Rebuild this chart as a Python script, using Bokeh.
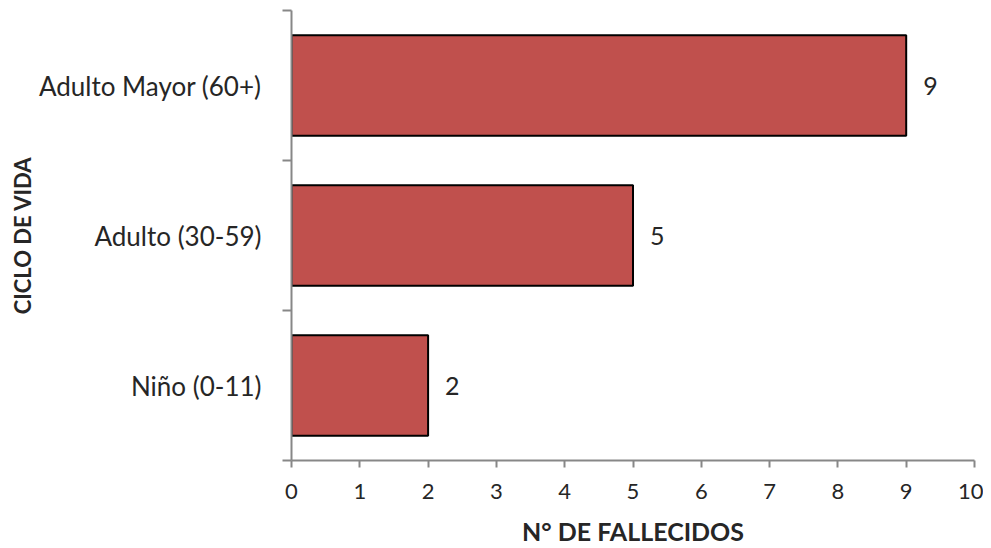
from bokeh.plotting import figure
from bokeh.models import ColumnDataSource, FixedTicker, LinearAxis, Range1d
from bokeh.core.properties import value
from bokeh.embed import file_html
from bokeh.resources import INLINE

categories = ["Niño (0-11)", "Adulto (30-59)", "Adulto Mayor (60+)"]
fallecidos = [2, 5, 9]
x_ticks = list(range(0, 11))

positions = list(range(len(categories)))
src = ColumnDataSource(dict(y=positions, x=fallecidos, lbl=[str(v) for v in fallecidos]))

FONT = "Lato"
AXIS_COLOR = "#878787"
TEXT_COLOR = "#262626"
CAT_FS = "26px"
TICK_FS = "22px"

p = figure(width=983, height=548, output_backend="svg", toolbar_location=None,
           x_range=Range1d(0, 10), y_range=Range1d(-0.5, len(categories) - 0.5),
           x_axis_location=None, y_axis_location=None,
           min_border_left=291, min_border_right=9, min_border_top=10, min_border_bottom=88)
p.outline_line_color = None
p.xgrid.visible = False
p.ygrid.visible = False
p.grid.visible = False

p.hbar(y="y", right="x", left=0, height=0.67, source=src,
       fill_color="#C0504D", line_color="black", line_width=2)
p.text(x="x", y="y", text="lbl", source=src, x_offset=17,
       text_baseline="middle", text_align="left", text_font=value(FONT),
       text_font_size="25px", text_color=TEXT_COLOR)

xaxis = LinearAxis(ticker=FixedTicker(ticks=x_ticks), axis_label="N° DE FALLECIDOS")
xaxis.axis_line_color = AXIS_COLOR
xaxis.axis_line_width = 2
xaxis.major_tick_line_color = AXIS_COLOR
xaxis.major_tick_line_width = 2
xaxis.major_tick_in = 0
xaxis.major_tick_out = 7
xaxis.minor_tick_line_color = None
xaxis.major_label_text_font = FONT
xaxis.major_label_text_font_size = TICK_FS
xaxis.major_label_text_color = TEXT_COLOR
xaxis.major_label_standoff = 16
xaxis.axis_label_text_font = FONT
xaxis.axis_label_text_font_size = "25px"
xaxis.axis_label_text_font_style = "bold"
xaxis.axis_label_text_color = TEXT_COLOR
xaxis.axis_label_standoff = 14
p.add_layout(xaxis, "below")

bounds = [i - 0.5 for i in range(len(categories) + 1)]
yaxis = LinearAxis(ticker=FixedTicker(ticks=positions, minor_ticks=bounds),
                   axis_label="CICLO DE VIDA")
yaxis.major_label_overrides = {i: c for i, c in zip(positions, categories)}
yaxis.axis_line_color = AXIS_COLOR
yaxis.axis_line_width = 2
yaxis.major_tick_line_color = None
yaxis.major_tick_in = 0
yaxis.major_tick_out = 0
yaxis.minor_tick_line_color = AXIS_COLOR
yaxis.minor_tick_line_width = 2
yaxis.minor_tick_in = 0
yaxis.minor_tick_out = 9
yaxis.major_label_text_font = FONT
yaxis.major_label_text_font_size = CAT_FS
yaxis.major_label_text_color = TEXT_COLOR
yaxis.major_label_standoff = 21
yaxis.axis_label_text_font = FONT
yaxis.axis_label_text_font_size = "22px"
yaxis.axis_label_text_font_style = "bold"
yaxis.axis_label_text_color = TEXT_COLOR
yaxis.axis_label_standoff = 0
p.add_layout(yaxis, "left")

open("out.html", "w").write(file_html(p, INLINE))
